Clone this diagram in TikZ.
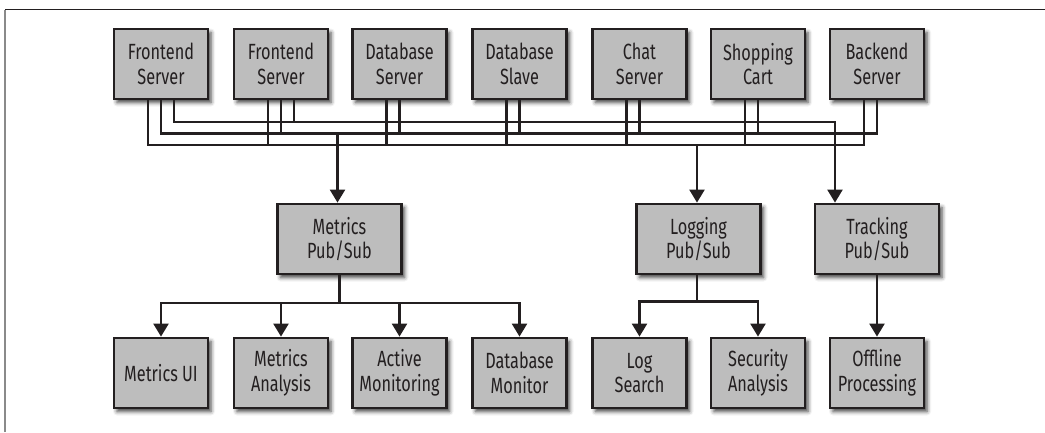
\documentclass[tikz,border=0pt]{standalone}
\usepackage{fontspec}
\setmainfont{Fira Sans}[FakeStretch=0.74]
\usetikzlibrary{arrows.meta,shadows.blur}

\definecolor{ink}{HTML}{231F20}
\definecolor{boxfill}{HTML}{BDBDBD}
\definecolor{framegray}{HTML}{8A8A8A}

\tikzset{
  box/.style={draw=ink, fill=boxfill, line width=2.8pt, inner sep=0pt,
    minimum width=94pt, minimum height=70pt, align=center, text=ink,
    font=\fontsize{22}{24.5}\selectfont,
    blur shadow={shadow xshift=3pt, shadow yshift=-3.5pt,
      shadow blur radius=4pt, shadow opacity=75}},
  hub/.style={box, minimum width=124pt},
  wire/.style={draw=ink, line width=2.3pt},
  feed/.style={wire, -{Triangle[width=15pt,length=13pt]}},
}

\begin{document}
\begin{tikzpicture}[x=1pt,y=-1pt]
\useasboundingbox (0,0) rectangle (1045,432);

% outer frame
\draw[framegray, line width=1.2pt] (5,432) -- (5,9.5);
\draw[ink, line width=1.2pt] (5,9.5) -- (1045,9.5);

% producers
\node[box] (fe1) at (161,64)   {Frontend\\Server};
\node[box] (fe2) at (281,64)   {Frontend\\Server};
\node[box] (dbs) at (399.5,64) {Database\\Server};
\node[box] (dbl) at (519.5,64) {Database\\Slave};
\node[box] (cht) at (639.5,64) {Chat\\Server};
\node[box] (cart) at (758,64)  {Shopping\\Cart};
\node[box] (be)  at (877,64)   {Backend\\Server};

% pub/sub hubs
\node[hub] (met) at (339.5,239) {Metrics\\Pub/Sub};
\node[hub] (log) at (698.5,239) {Logging\\Pub/Sub};
\node[hub] (trk) at (877,239)   {Tracking\\Pub/Sub};

% consumers
\node[box] (mui) at (161,373)   {Metrics UI};
\node[box] (man) at (281,373)   {Metrics\\Analysis};
\node[box] (amo) at (399.5,373) {Active\\Monitoring};
\node[box] (dbm) at (519.5,373) {Database\\Monitor};
\node[box] (lsr) at (639.5,373) {Log\\Search};
\node[box] (sec) at (758,373)   {Security\\Analysis};
\node[box] (off) at (877,373)   {Offline\\Processing};

% bus levels
\coordinate (tbus) at (0,122);
\coordinate (mbus) at (0,133.5);
\coordinate (lbus) at (0,145);
\coordinate (mfan) at (0,303);
\coordinate (lfan) at (0,301.5);

% logging bus (lowest)
\draw[wire] ([xshift=-13pt]fe1.south) |- ([xshift=-13pt]be.south |- lbus) -- ([xshift=-13pt]be.south);
\foreach \n in {fe2,dbs,dbl,cht,cart}
  \draw[wire] ([xshift=-13pt]\n.south) -- ([xshift=-13pt]\n.south |- lbus);
\draw[feed] ([xshift=-1.5pt]log.north |- lbus) -- ([xshift=-1.5pt]log.north);

% metrics bus (middle)
\draw[wire] (fe1.south) |- (be.south |- mbus) -- (be.south);
\foreach \n in {fe2,dbs,dbl,cht,cart}
  \draw[wire] (\n.south) -- (\n.south |- mbus);
\draw[feed] ([xshift=-2pt]met.north |- mbus) -- ([xshift=-2pt]met.north);

% tracking bus (top)
\draw[feed] ([xshift=13pt]fe1.south) |- ([xshift=-42pt]trk.north |- tbus) -- ([xshift=-42pt]trk.north);
\draw[wire] ([xshift=13pt]fe2.south) -- ([xshift=13pt]fe2.south |- tbus);

% metrics fan-out
\foreach \n in {mui,man,amo,dbm}
  \draw[feed] (met.south) |- (\n.north |- mfan) -- (\n.north);

% logging fan-out
\foreach \n in {lsr,sec}
  \draw[feed] ([xshift=-1.5pt]log.south) |- (\n.north |- lfan) -- (\n.north);

% tracking
\draw[feed] (trk.south) -- (off.north);

\end{tikzpicture}
\end{document}
